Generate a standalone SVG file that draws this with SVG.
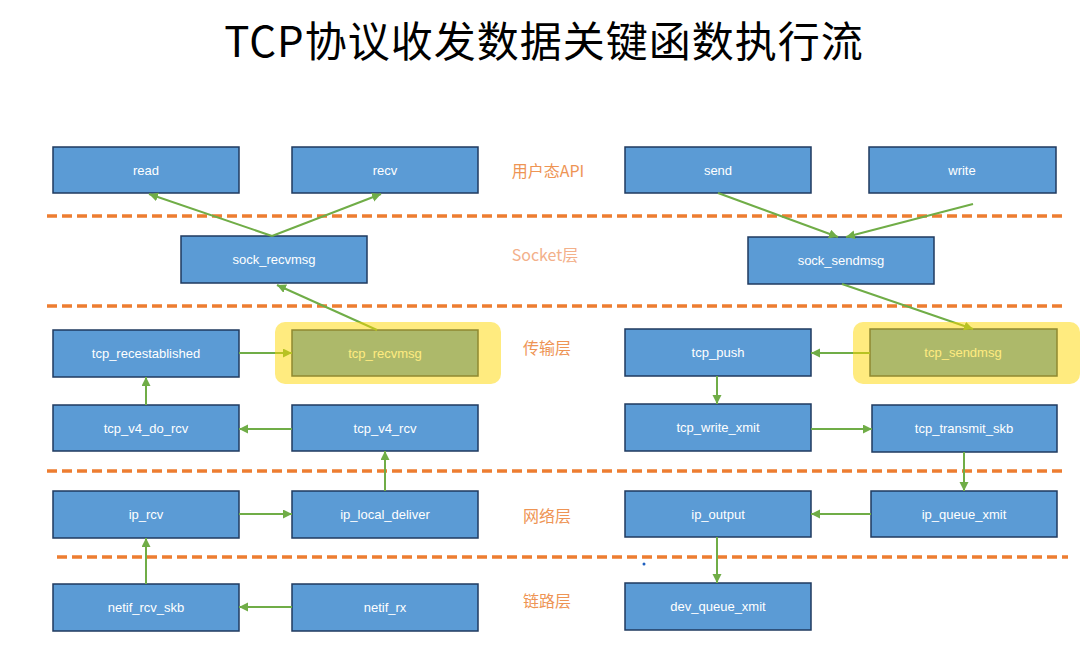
<svg xmlns="http://www.w3.org/2000/svg" width="1092" height="649" viewBox="0 0 1092 649">
<style>
.box{fill:#5B9BD5;stroke:#1F3A5F;stroke-width:1.5}
.bt{font-family:"Liberation Sans","Noto Sans",Arial,sans-serif;font-size:13px;fill:#FFFFFF;text-anchor:middle}
.layer{font-family:"Noto Sans CJK SC","Noto Sans",sans-serif;font-size:16px;fill:#EE9454;text-anchor:middle}
.dash{stroke:#ED7D31;stroke-width:3.5;stroke-dasharray:10 5;fill:none}
.conn{stroke:#70AD47;stroke-width:2;fill:none;marker-end:url(#ah)}
.hl{fill:#FFD700;opacity:0.5}
</style>
<defs>
<marker id="ah" markerUnits="userSpaceOnUse" markerWidth="10" markerHeight="10" refX="9" refY="4.5" orient="auto">
<path d="M0,0 L9,4.5 L0,9 z" fill="#70AD47"/>
</marker>
</defs>
<rect width="1092" height="649" fill="#FFFFFF"/>
<text x="544" y="57" font-family="'Noto Sans CJK SC','Noto Sans',sans-serif" font-size="42" letter-spacing="1" fill="#000000" text-anchor="middle">TCP协议收发数据关键函数执行流</text>

<g id="dividers">
<line class="dash" x1="47" y1="216" x2="1063" y2="216"/>
<line class="dash" x1="47" y1="306" x2="1063" y2="306"/>
<line class="dash" x1="47" y1="471" x2="1063" y2="471"/>
<line class="dash" x1="57" y1="557" x2="1068" y2="557"/>
</g>

<g id="layer-labels">
<text class="layer" x="548" y="177">用户态API</text>
<text class="layer" x="545" y="261" style="fill:#F3B08A">Socket层</text>
<text class="layer" x="547" y="354">传输层</text>
<text class="layer" x="547" y="522">网络层</text>
<text class="layer" x="547" y="607">链路层</text>
</g>

<g id="read"><rect class="box" x="53" y="147" width="186" height="46"/><text class="bt" x="146" y="175">read</text></g>
<g id="recv"><rect class="box" x="292" y="147" width="186" height="46"/><text class="bt" x="385" y="175">recv</text></g>
<g id="send"><rect class="box" x="625" y="147" width="186" height="46"/><text class="bt" x="718" y="175">send</text></g>
<g id="write"><rect class="box" x="869" y="147" width="187" height="46"/><text class="bt" x="962" y="175">write</text></g>
<g id="sock_recvmsg"><rect class="box" x="181" y="236" width="186" height="47"/><text class="bt" x="274" y="264">sock_recvmsg</text></g>
<g id="sock_sendmsg"><rect class="box" x="748" y="237" width="186" height="47"/><text class="bt" x="841" y="265">sock_sendmsg</text></g>
<g id="tcp_recestablished"><rect class="box" x="53" y="330" width="186" height="47"/><text class="bt" x="146" y="358">tcp_recestablished</text></g>
<g id="tcp_recvmsg"><rect class="box" x="292" y="330" width="186" height="46"/><text class="bt" x="385" y="358">tcp_recvmsg</text></g>
<g id="tcp_push"><rect class="box" x="625" y="329" width="186" height="47"/><text class="bt" x="718" y="357">tcp_push</text></g>
<g id="tcp_sendmsg"><rect class="box" x="870" y="329" width="187" height="47"/><text class="bt" x="963" y="357">tcp_sendmsg</text></g>
<g id="tcp_v4_do_rcv"><rect class="box" x="53" y="405" width="186" height="46"/><text class="bt" x="146" y="433">tcp_v4_do_rcv</text></g>
<g id="tcp_v4_rcv"><rect class="box" x="292" y="405" width="186" height="46"/><text class="bt" x="385" y="433">tcp_v4_rcv</text></g>
<g id="tcp_write_xmit"><rect class="box" x="625" y="404" width="186" height="47"/><text class="bt" x="718" y="432">tcp_write_xmit</text></g>
<g id="tcp_transmit_skb"><rect class="box" x="872" y="405" width="185" height="47"/><text class="bt" x="964" y="433">tcp_transmit_skb</text></g>
<g id="ip_rcv"><rect class="box" x="53" y="491" width="186" height="47"/><text class="bt" x="146" y="519">ip_rcv</text></g>
<g id="ip_local_deliver"><rect class="box" x="292" y="491" width="186" height="47"/><text class="bt" x="385" y="519">ip_local_deliver</text></g>
<g id="ip_output"><rect class="box" x="625" y="491" width="186" height="46"/><text class="bt" x="718" y="519">ip_output</text></g>
<g id="ip_queue_xmit"><rect class="box" x="871" y="491" width="186" height="46"/><text class="bt" x="964" y="519">ip_queue_xmit</text></g>
<g id="netif_rcv_skb"><rect class="box" x="53" y="584" width="186" height="47"/><text class="bt" x="146" y="612">netif_rcv_skb</text></g>
<g id="netif_rx"><rect class="box" x="292" y="584" width="186" height="47"/><text class="bt" x="385" y="612">netif_rx</text></g>
<g id="dev_queue_xmit"><rect class="box" x="625" y="583" width="186" height="47"/><text class="bt" x="718" y="611">dev_queue_xmit</text></g>

<g id="connectors">
<path class="conn" d="M272,236 L149,194"/>
<path class="conn" d="M272,236 L381,194"/>
<path class="conn" d="M377,330 L277,285"/>
<path class="conn" d="M718,193 L838,237"/>
<path class="conn" d="M973,204 L846,237"/>
<path class="conn" d="M842,284 L973,329"/>
<path class="conn" d="M239,353 L292,353"/>
<path class="conn" d="M870,353 L811,353"/>
<path class="conn" d="M717,376 L717,404"/>
<path class="conn" d="M146,405 L146,377"/>
<path class="conn" d="M292,429 L239,429"/>
<path class="conn" d="M811,429 L872,429"/>
<path class="conn" d="M964,452 L964,491"/>
<path class="conn" d="M385,491 L385,451"/>
<path class="conn" d="M239,514 L292,514"/>
<path class="conn" d="M871,514 L811,514"/>
<path class="conn" d="M146,584 L146,538"/>
<path class="conn" d="M292,607 L239,607"/>
<path class="conn" d="M717,537 L717,583"/>
</g>

<g id="highlights">
<rect class="hl" x="275" y="322" width="226" height="62" rx="10"/>
<rect class="hl" x="853" y="322" width="227" height="62" rx="10"/>
</g>

<circle cx="644" cy="564" r="1.5" fill="#1F5FBF"/>
</svg>
